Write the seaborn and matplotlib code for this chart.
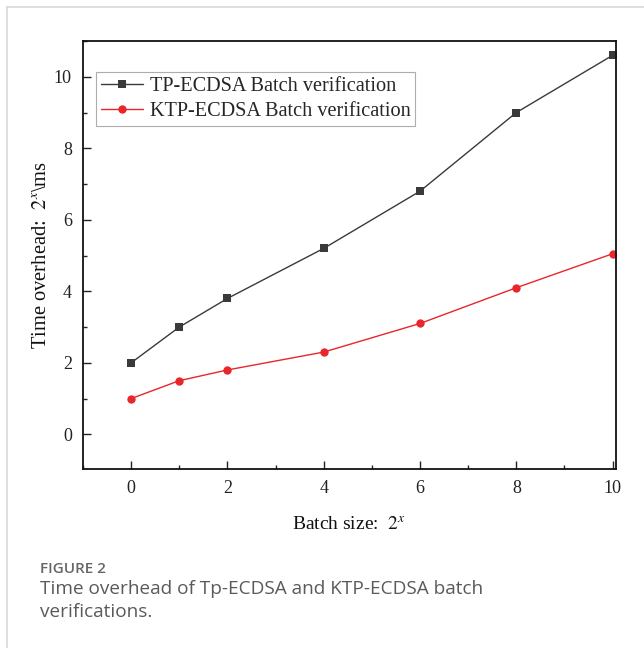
import matplotlib
matplotlib.use("Agg")
import matplotlib.pyplot as plt
import seaborn as sns
import pandas as pd
from matplotlib.lines import Line2D
from matplotlib.ticker import MultipleLocator

batch_exp = [0, 1, 2, 4, 6, 8, 10]
tp_ecdsa = [2.0, 3.0, 3.8, 5.2, 6.8, 9.0, 10.6]
ktp_ecdsa = [1.0, 1.5, 1.8, 2.3, 3.1, 4.1, 5.05]
series_names = ["TP-ECDSA Batch verification", "KTP-ECDSA Batch verification"]
x_ticks = [0, 2, 4, 6, 8, 10]
y_ticks = [0, 2, 4, 6, 8, 10]

df = pd.DataFrame({
    "x": batch_exp * 2,
    "y": tp_ecdsa + ktp_ecdsa,
    "series": [series_names[0]] * len(batch_exp) + [series_names[1]] * len(batch_exp),
})

sns.set_style("white")
SERIF = ["Liberation Serif", "DejaVu Serif"]
plt.rcParams["font.family"] = SERIF
plt.rcParams["mathtext.fontset"] = "stix"

fig = plt.figure(figsize=(6.44, 6.48), dpi=100)
ax = fig.add_axes([83/644, 1-469/648, (616-83)/644, (469-41)/648])

palette = {series_names[0]: "#3a3a3a", series_names[1]: "#e8262b"}
markers = {series_names[0]: "s", series_names[1]: "o"}
sns.lineplot(data=df, x="x", y="y", hue="series", style="series",
             palette=palette, markers=markers, dashes=False,
             markersize=6, linewidth=1.0, markeredgewidth=0, ax=ax)
for ln in ax.get_lines():
    ln.set_clip_on(True)

ax.set_xlim(-1.0, 10.07)
ax.set_ylim(-0.97, 11.0)
ax.set_xticks(x_ticks)
ax.set_yticks(y_ticks)
ax.xaxis.set_minor_locator(MultipleLocator(1))
ax.yaxis.set_minor_locator(MultipleLocator(1))
ax.tick_params(which="major", direction="in", length=6, width=1.0, labelsize=13, pad=8, colors="#222222")
ax.tick_params(which="minor", direction="in", length=3, width=1.0, colors="#222222")
ax.tick_params(axis="x", which="both", bottom=True, top=False)
ax.tick_params(axis="y", which="both", left=True, right=False)
for lbl in ax.get_xticklabels() + ax.get_yticklabels():
    lbl.set_fontfamily(SERIF)
for s in ax.spines.values():
    s.set_linewidth(1.3)
    s.set_color("#111111")

ax.set_xlabel("Batch size:  $2^x$", fontsize=14, labelpad=14, color="#111111", family=SERIF)
ax.set_ylabel("Time overhead:  $2^x$\\ms", fontsize=14.8, labelpad=2, color="#111111", family=SERIF)

leg = ax.legend(loc="upper left", bbox_to_anchor=(0.024, 0.928), prop={"family": SERIF, "size": 14.6},
                frameon=True, fancybox=False, edgecolor="#999999",
                handlelength=2.1, handletextpad=0.3, borderpad=0.25, labelspacing=0.28,
                borderaxespad=0)
leg.get_frame().set_linewidth(0.8)

# outer frame lines
fig.add_artist(Line2D([7/644, 1.0], [1-7/648, 1-7/648], color="#d8d8d8", linewidth=1.2, transform=fig.transFigure))
fig.add_artist(Line2D([7/644, 7/644], [0.0, 1-7/648], color="#d8d8d8", linewidth=1.2, transform=fig.transFigure))

CAP = ["Open Sans", "DejaVu Sans"]
fig.text(40/644, 1-569/648, "FIGURE 2", fontsize=11, family=CAP, fontweight="semibold", color="#666666", va="center")
fig.text(40/644, 1-589/648, "Time overhead of Tp-ECDSA and KTP-ECDSA batch", fontsize=13.7, family=CAP, color="#5a5a5a", va="center")
fig.text(40/644, 1-612/648, "verifications.", fontsize=13.7, family=CAP, color="#5a5a5a", va="center")

fig.savefig("out.png", dpi=100)
